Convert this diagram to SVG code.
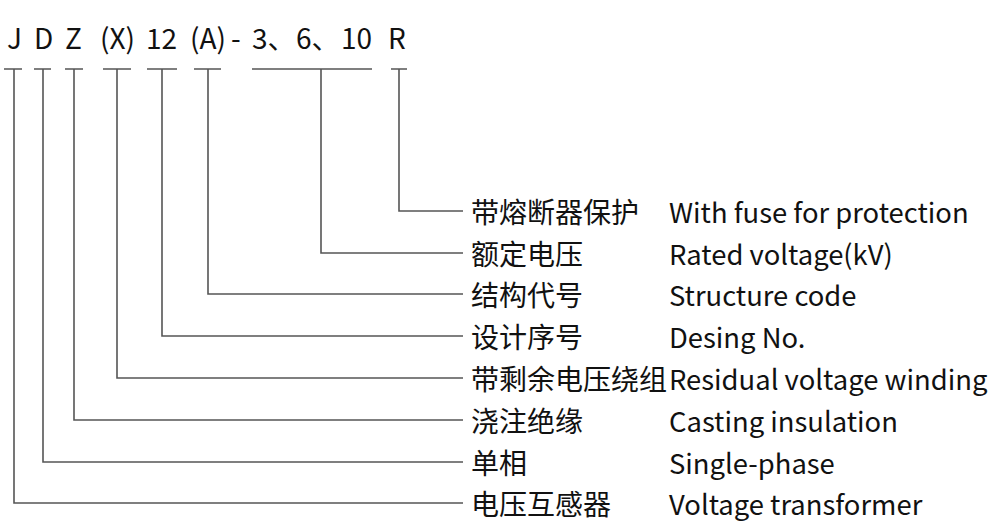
<svg xmlns="http://www.w3.org/2000/svg" width="1000" height="524" viewBox="0 0 1000 524">
<style>
text{font-family:"Noto Sans CJK SC","Noto Sans",sans-serif;font-size:28px;fill:#111}
.lbl{dominant-baseline:central}
.en{font-size:27.4px}
.c{fill:none;stroke:#555;stroke-width:1.6}
</style>
<rect width="1000" height="524" fill="#fff"/>
<g id="code">
<text y="49"><tspan x="7">J</tspan><tspan x="34">D</tspan><tspan x="65">Z</tspan><tspan x="100">(X)</tspan><tspan x="146">12</tspan><tspan x="190">(A)</tspan><tspan x="231">-</tspan><tspan x="252">3、</tspan><tspan x="296">6、</tspan><tspan x="341">10</tspan><tspan x="388">R</tspan></text>
</g>
<g id="connectors" class="c">
<path d="M4 69H22M34 69H51M65 69H83M103 69H131M147 69H177M194 69H221M252 69H372M391 69H407"/>
<path d="M399 69V211H463"/>
<path d="M321 69V253H463"/>
<path d="M208 69V294H463"/>
<path d="M162 69V336H463"/>
<path d="M117 69V378H463"/>
<path d="M74 69V420H463"/>
<path d="M43 69V462H463"/>
<path d="M14 69V503H463"/>
</g>
<g id="n1"><text class="lbl" x="471" y="211">带熔断器保护</text><text class="lbl en" x="669" y="211">With fuse for protection</text></g>
<g id="n2"><text class="lbl" x="471" y="253">额定电压</text><text class="lbl en" x="669" y="253">Rated voltage(kV)</text></g>
<g id="n3"><text class="lbl" x="471" y="294">结构代号</text><text class="lbl en" x="669" y="294">Structure code</text></g>
<g id="n4"><text class="lbl" x="471" y="336">设计序号</text><text class="lbl en" x="669" y="336">Desing No.</text></g>
<g id="n5"><text class="lbl" x="471" y="378">带剩余电压绕组</text><text class="lbl en" x="669" y="378">Residual voltage winding</text></g>
<g id="n6"><text class="lbl" x="471" y="420">浇注绝缘</text><text class="lbl en" x="669" y="420">Casting insulation</text></g>
<g id="n7"><text class="lbl" x="471" y="462">单相</text><text class="lbl en" x="669" y="462">Single-phase</text></g>
<g id="n8"><text class="lbl" x="471" y="503">电压互感器</text><text class="lbl en" x="669" y="503">Voltage transformer</text></g>
</svg>
